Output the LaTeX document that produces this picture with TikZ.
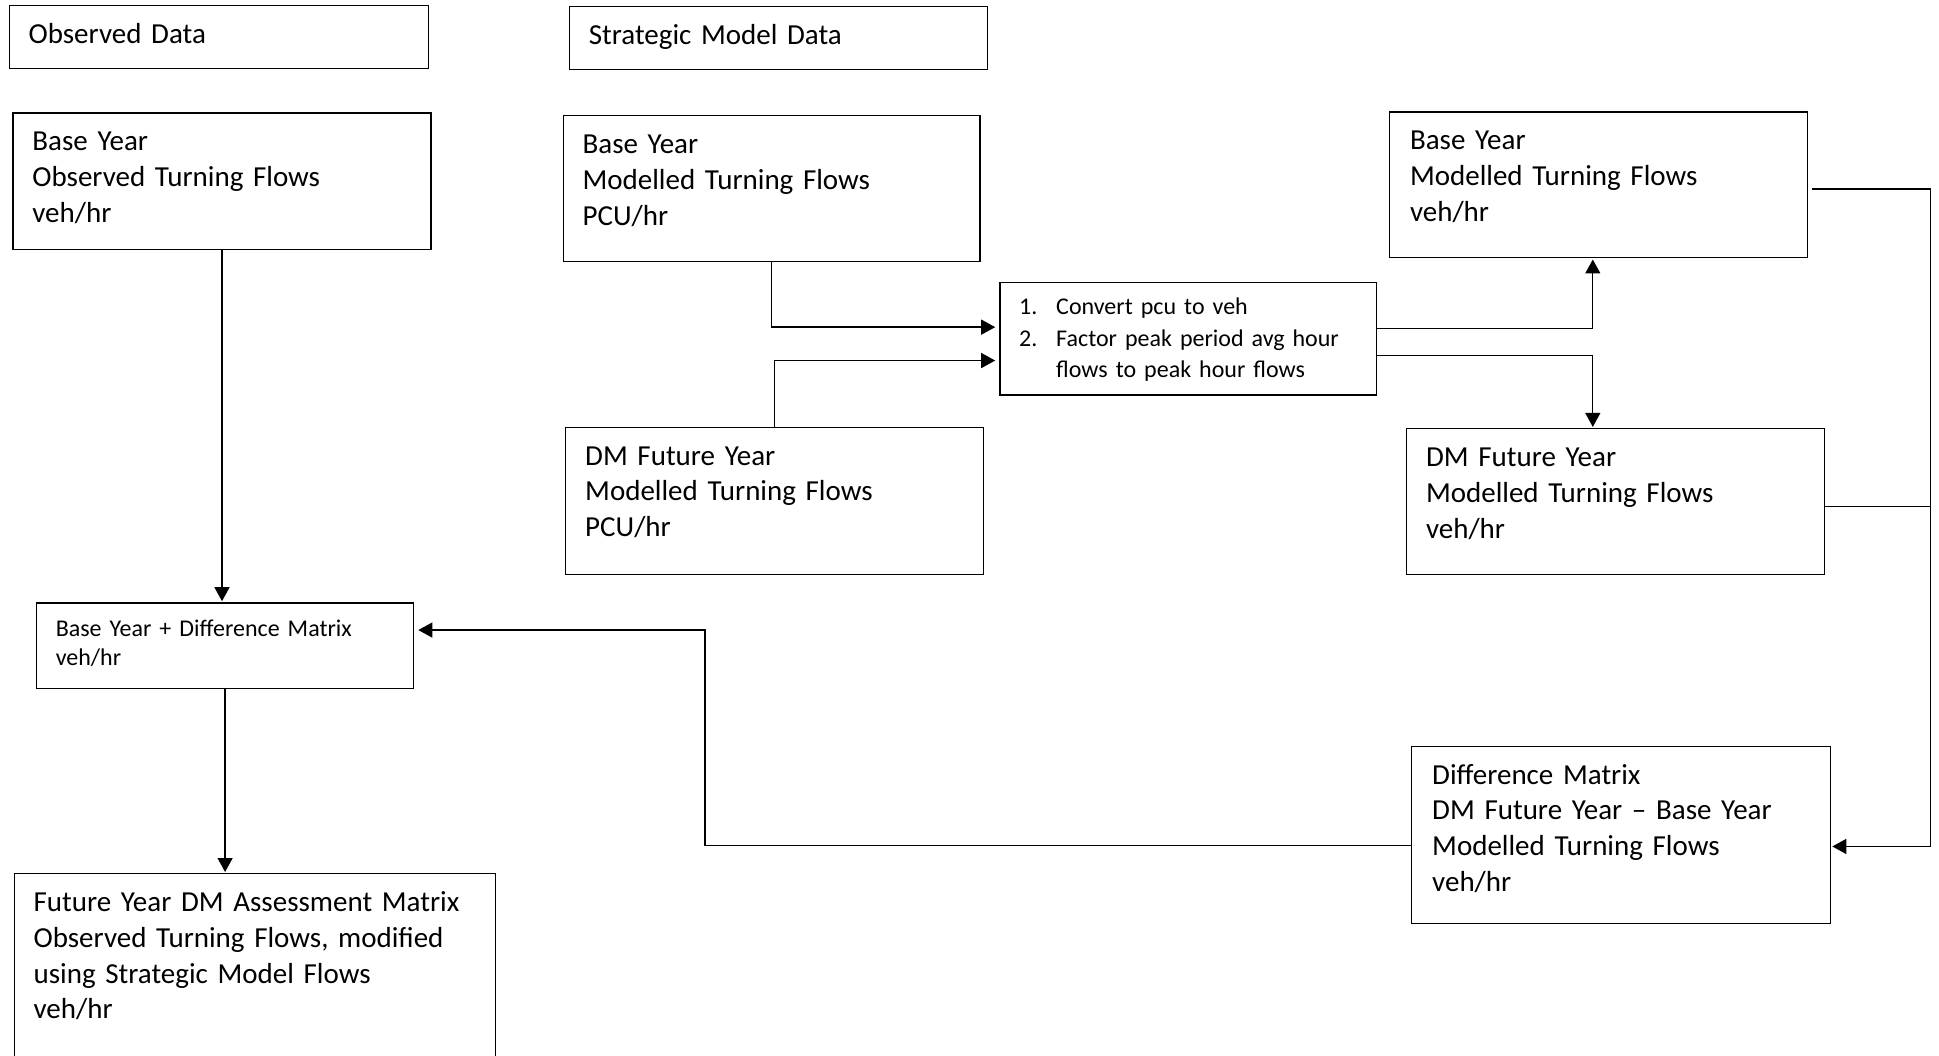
\documentclass[tikz,border=0pt]{standalone}
\usepackage{fontspec}
\setmainfont{Carlito}
\usetikzlibrary{arrows.meta,calc}
\begin{document}
\begin{tikzpicture}[x=1pt,y=-1pt,
  box/.style={draw, line width=1.3pt, inner sep=0pt, anchor=north west},
  big/.style={inner sep=0pt, anchor=base west, align=left, text width=470pt, font=\fontsize{29}{35.8}\selectfont},
  small/.style={inner sep=0pt, anchor=base west, align=left, text width=360pt, font=\fontsize{24}{31.5}\selectfont},
  bdtext/.style={inner sep=0pt, anchor=base west, align=left, text width=360pt, font=\fontsize{24}{28.5}\selectfont},
  conn/.style={line width=1.3pt},
  arr/.style={conn, -{Triangle[length=14pt,width=15pt]}, shorten >=1pt},
  arrgap/.style={arr, shorten >=4pt}]
\useasboundingbox (0,0) rectangle (1939,1056);
\clip (0,0) rectangle (1939,1056);

% boxes
\node[box, minimum width=419.2pt, minimum height=63.1pt] (obs) at (8.7,4.9) {};
\node[box, minimum width=418pt, minimum height=63pt] (strat) at (568.8,6.2) {};
\node[box, minimum width=417.9pt, minimum height=136.1pt] (bobs) at (12.4,112.5) {};
\node[box, minimum width=416.7pt, minimum height=145.9pt] (bmpcu) at (562.7,115) {};
\node[box, minimum width=376.9pt, minimum height=112.5pt] (conv) at (999.2,282) {};
\node[box, minimum width=418pt, minimum height=147.2pt] (dmpcu) at (565.1,426.6) {};
\node[box, minimum width=418pt, minimum height=145.9pt] (bmveh) at (1388.7,111.3) {};
\node[box, minimum width=418pt, minimum height=145.9pt] (dmveh) at (1406,427.9) {};
\node[box, minimum width=377.1pt, minimum height=85.4pt] (bdiff) at (35.9,602.2) {};
\node[box, minimum width=419pt, minimum height=176.8pt] (diff) at (1411,745.7) {};
\node[box, minimum width=481pt, minimum height=250pt] (fut) at (13.6,873) {};

% texts
\node[big] (obst) at (28.4,43.5) {Observed Data};
\node[big] (stratt) at (588.6,44.5) {Strategic Model Data};
\node[big] (bobst) at (32.2,151) {Base Year\\Observed Turning Flows\\veh/hr};
\node[big] (bmpcut) at (582.4,153.5) {Base Year\\Modelled Turning Flows\\PCU/hr};
\node[big] (dmpcut) at (585,465) {DM Future Year\\Modelled Turning Flows\\PCU/hr};
\node[big] (bmveht) at (1409.8,149.5) {Base Year\\Modelled Turning Flows\\veh/hr};
\node[big] (dmveht) at (1425.8,466.5) {DM Future Year\\Modelled Turning Flows\\veh/hr};
\node[big] (difft) at (1432,784) {Difference Matrix\\DM Future Year -- Base Year\\Modelled Turning Flows\\veh/hr};
\node[big] (futt) at (33.4,911.5) {Future Year DM Assessment Matrix\\Observed Turning Flows, modified\\using Strategic Model Flows\\veh/hr};
\node[bdtext] (bdifft) at (55.6,636.5) {Base Year + Difference Matrix\\veh/hr};
\node[small] (n1) at (1019,315) {1.};
\node[small] (c1) at (1056,315) {Convert pcu to veh};
\node[small] (n2) at (1019,346.5) {2.};
\node[small] (c2) at (1056,346.5) {Factor peak period avg hour\\flows to peak hour flows};

% helper coordinates
\coordinate (sx) at (1592.8,0);
\coordinate (bx) at (1930.3,0);
\coordinate (mx) at (704.9,0);
\coordinate (cin1) at ($(conv.west)+(0,-11.75)$);
\coordinate (cin2) at ($(conv.west)+(0,21.65)$);
\coordinate (cout1) at ($(conv.east)+(0,-10.5)$);
\coordinate (cout2) at ($(conv.east)+(0,16.7)$);
\coordinate (bme) at ($(bmveh.east)+(4,4)$);
\coordinate (dme) at ($(dmveh.east)+(0,5)$);
\coordinate (din) at ($(diff.east)+(0,11.7)$);
\coordinate (dl) at ($(diff.west)+(0,10.5)$);
\coordinate (bdr) at ($(bdiff.east)+(0,-15.5)$);

% connectors
\draw[arr] (bobs.south) -- (bobs.south |- bdiff.north);
\draw[arrgap] (bmpcu.south) |- (cin1);
\draw[arrgap] (dmpcu.north) |- (cin2);
\draw[arr] (cout1) -| (sx |- bmveh.south);
\draw[arr] (cout2) -| (sx |- dmveh.north);
\draw[arr] (bme) -| (bx |- din) -- (din);
\draw[conn] (dme) -- (bx |- dme);
\draw[arrgap] (dl) -| (mx |- bdr) -- (bdr);
\draw[arr] (bdiff.south) -- (bdiff.south |- fut.north);
\end{tikzpicture}
\end{document}
